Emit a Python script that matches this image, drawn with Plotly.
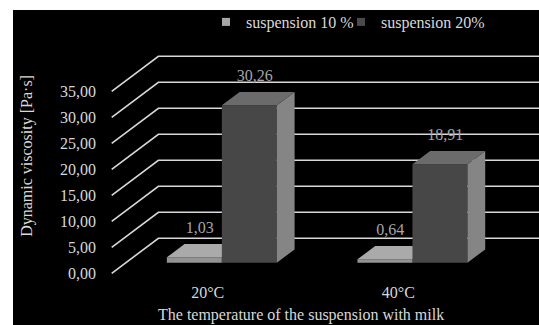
import plotly.graph_objects as go

# ---------------- data ----------------
categories = ["20°C", "40°C"]
series_names = ["suspension 10 %", "suspension 20%"]
values_10 = [1.03, 0.64]
values_20 = [30.26, 18.91]
y_ticks = [0, 5, 10, 15, 20, 25, 30, 35]
y_tick_labels = ["0,00", "5,00", "10,00", "15,00", "20,00", "25,00", "30,00", "35,00"]
x_title = "The temperature of the suspension with milk"
y_title = "Dynamic viscosity [Pa·s]"

# ---------------- style / pseudo-3D geometry ----------------
FONT = "Times New Roman, Liberation Serif, Times, serif"
TXT = "#d9d9d9"
LBL = "#a6a6a6"
GRID = "#d9d9d9"
BAR_W = 0.2886          # bar width in category units
DEPTH_X = 0.245         # full floor depth, x-direction (category units)
DEPTH_Y = 6.73          # full floor depth, y-direction (value units)
F_FRONT = 0.303         # depth fraction where bar fronts sit
F_BAR = 0.38            # depth fraction occupied by a bar
WALL_X = -0.5037        # x of the front-left corner of the side wall
LABEL_GAP = 1.4         # extra gap above bar tops for data labels (value units)
X_RANGE = [-0.5546, 1.7382]
Y_RANGE = [-1.481, 50.63]

series = [
    dict(name=series_names[0], vals=values_10, side=-1, legend_id="legend",
         front="#939393", top="#aaaaaa", right="#7f7f7f", legend="#a6a6a6"),
    dict(name=series_names[1], vals=values_20, side=1, legend_id="legend2",
         front="#474747", top="#6b6b6b", right="#858585", legend="#4a4a4a"),
]

fig = go.Figure()

# gridlines: side-wall diagonals + back-wall horizontals
gx, gy = [], []
for t in y_ticks:
    gx += [WALL_X, WALL_X + DEPTH_X, X_RANGE[1], None]
    gy += [t, t + DEPTH_Y, t + DEPTH_Y, None]
fig.add_trace(go.Scatter(x=gx, y=gy, mode="lines", line=dict(color=GRID, width=1.6),
                         showlegend=False, hoverinfo="skip", zorder=0))

bdx, bdy = F_BAR * DEPTH_X, F_BAR * DEPTH_Y
z = 1
for s in series:
    xs = [i + s["side"] * BAR_W / 2 + F_FRONT * DEPTH_X for i in range(len(categories))]
    base = F_FRONT * DEPTH_Y
    # front faces
    fig.add_trace(go.Bar(x=xs, y=s["vals"], base=[base] * len(xs), width=BAR_W,
                         marker=dict(color=s["front"], line=dict(width=0)),
                         showlegend=False, hoverinfo="skip", zorder=z))
    # top and right faces
    tx, ty, rx, ry = [], [], [], []
    for xc, v in zip(xs, s["vals"]):
        xl, xr, top = xc - BAR_W / 2, xc + BAR_W / 2, base + v
        tx += [xl, xr, xr + bdx, xl + bdx, xl, None]
        ty += [top, top, top + bdy, top + bdy, top, None]
        rx += [xr, xr + bdx, xr + bdx, xr, xr, None]
        ry += [base, base + bdy, top + bdy, top, base, None]
    fig.add_trace(go.Scatter(x=rx, y=ry, mode="lines", fill="toself", fillcolor=s["right"],
                             line=dict(width=0, color=s["right"]), showlegend=False,
                             hoverinfo="skip", zorder=z))
    fig.add_trace(go.Scatter(x=tx, y=ty, mode="lines", fill="toself", fillcolor=s["top"],
                             line=dict(width=0, color=s["top"]), showlegend=False,
                             hoverinfo="skip", zorder=z))
    z += 1

# data labels
for s in series:
    xs = [i + s["side"] * BAR_W / 2 + F_FRONT * DEPTH_X + 0.3 * bdx for i in range(len(categories))]
    ys = [v + (F_FRONT + F_BAR) * DEPTH_Y + LABEL_GAP for v in s["vals"]]
    fig.add_trace(go.Scatter(x=xs, y=ys, mode="text",
                             text=[f"{v:.2f}".replace(".", ",") for v in s["vals"]],
                             textposition="top center",
                             textfont=dict(family=FONT, size=16, color=LBL),
                             showlegend=False, hoverinfo="skip", zorder=10))

# legend entries (one legend box per series so both can be placed exactly)
for s in series:
    fig.add_trace(go.Scatter(x=[None], y=[None], mode="markers", name=s["name"],
                             legend=s["legend_id"],
                             marker=dict(symbol="square", size=8, color=s["legend"])))

W, H = 539, 325
L, R, T, B = 102, 0, 10, 44
pw, ph = W - L - R, H - T - B

def px(xp):
    return (xp - L) / pw

def py(yp):
    return (H - B - yp) / ph

leg_common = dict(orientation="h", xanchor="left", y=py(22), yanchor="middle",
                  bgcolor="rgba(0,0,0,0)", borderwidth=0,
                  font=dict(family=FONT, size=16, color=TXT), itemclick=False)

fig.update_layout(
    width=W, height=H,
    margin=dict(l=L, r=R, t=T, b=B, pad=0),
    paper_bgcolor="white", plot_bgcolor="black",
    barmode="overlay",
    font=dict(family=FONT, size=16, color=TXT),
    xaxis=dict(range=X_RANGE, tickvals=list(range(len(categories))), ticktext=categories,
               showgrid=False, zeroline=False, showline=False, ticks="",
               tickfont=dict(family=FONT, size=16, color=TXT), fixedrange=True),
    yaxis=dict(range=Y_RANGE, tickvals=y_ticks, ticktext=y_tick_labels,
               showgrid=False, zeroline=False, showline=False, ticks="",
               ticklabelstandoff=5,
               tickfont=dict(family=FONT, size=16, color=TXT), fixedrange=True),
    legend=dict(x=px(206), **leg_common),
    legend2=dict(x=px(341), **leg_common),
    shapes=[dict(type="rect", xref="paper", yref="paper", x0=px(13), x1=1.0,
                 y0=py(H), y1=py(10), fillcolor="black", line=dict(width=0), layer="below")],
    annotations=[
        dict(text=y_title, xref="paper", yref="paper", x=px(27), y=py(155.8),
             xanchor="center", yanchor="middle", textangle=-90, showarrow=False,
             font=dict(family=FONT, size=16, color=TXT)),
        dict(text=x_title, xref="paper", yref="paper", x=px(301), y=py(315),
             xanchor="center", yanchor="middle", showarrow=False,
             font=dict(family=FONT, size=16, color=TXT)),
    ],
)

fig.write_html("out.html")
